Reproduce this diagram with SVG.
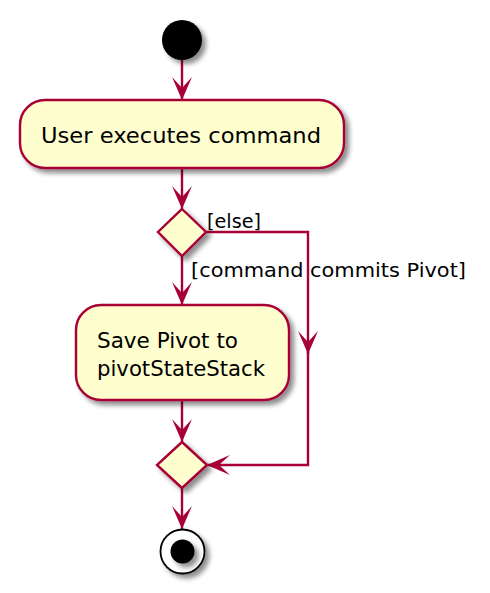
<svg xmlns="http://www.w3.org/2000/svg" width="490" height="593" viewBox="0 0 490 593">
  <style>
    .node { fill: #FEFECE; stroke: #A80036; stroke-width: 2.4; }
    .conn { fill: none; stroke: #A80036; stroke-width: 2.4; }
    .txt { font-family: "DejaVu Sans", "Liberation Sans", sans-serif; font-size: 22px; fill: #000; }
    .lbl { font-family: "DejaVu Sans", "Liberation Sans", sans-serif; font-size: 20px; fill: #000; }
  </style>
  <defs>
    <filter id="shadow" x="-30%" y="-30%" width="170%" height="170%">
      <feGaussianBlur in="SourceAlpha" stdDeviation="2.5" result="b"/>
      <feOffset in="b" dx="4" dy="4" result="o"/>
      <feComponentTransfer in="o" result="s">
        <feFuncA type="linear" slope="0.45"/>
      </feComponentTransfer>
      <feMerge>
        <feMergeNode in="s"/>
        <feMergeNode in="SourceGraphic"/>
      </feMerge>
    </filter>
    <marker id="arrow" markerUnits="userSpaceOnUse" viewBox="-24 -11 25 22" refX="0" refY="0" markerWidth="25" markerHeight="22" orient="auto">
      <path d="M0,0 L-23,-10 L-12,0 L-23,10 Z" fill="#A80036"/>
    </marker>
  </defs>
  <rect width="490" height="593" fill="#FFFFFF"/>

  <g id="connectors">
    <path class="conn" d="M182,60 V100" marker-end="url(#arrow)"/>
    <path class="conn" d="M182,168 V209" marker-end="url(#arrow)"/>
    <path class="conn" d="M182,256 V305" marker-end="url(#arrow)"/>
    <path class="conn" d="M182,400 V442" marker-end="url(#arrow)"/>
    <path class="conn" d="M182,488 V529" marker-end="url(#arrow)"/>
    <path class="conn" d="M206,232 H308 V354" marker-end="url(#arrow)"/>
    <path class="conn" d="M308,350 V465 H207" marker-end="url(#arrow)"/>
    <text class="lbl" x="207" y="228" textLength="54" lengthAdjust="spacingAndGlyphs">[else]</text>
    <text class="lbl" x="191" y="277" textLength="275" lengthAdjust="spacingAndGlyphs">[command commits Pivot]</text>
  </g>

  <g id="start">
    <circle cx="182" cy="40" r="20" fill="#000000" filter="url(#shadow)"/>
  </g>

  <g id="action1">
    <rect class="node" x="20" y="100" width="324" height="68" rx="25" ry="25" filter="url(#shadow)"/>
    <text class="txt" x="41" y="143" textLength="280" lengthAdjust="spacingAndGlyphs">User executes command</text>
  </g>

  <g id="decision1">
    <polygon class="node" points="182,209 206,232 182,256 158,232" filter="url(#shadow)"/>
  </g>

  <g id="action2">
    <rect class="node" x="76" y="305" width="213" height="95" rx="25" ry="25" filter="url(#shadow)"/>
    <text class="txt" x="97" y="348" textLength="141" lengthAdjust="spacingAndGlyphs">Save Pivot to</text>
    <text class="txt" x="97" y="376" textLength="168" lengthAdjust="spacingAndGlyphs">pivotStateStack</text>
  </g>

  <g id="merge">
    <polygon class="node" points="182,442 207,465 182,488 157,465" filter="url(#shadow)"/>
  </g>

  <g id="end">
    <circle cx="182.5" cy="551.5" r="22" fill="#FFFFFF" stroke="#000000" stroke-width="1.8" filter="url(#shadow)"/>
    <circle cx="182.5" cy="551.5" r="12" fill="#000000" filter="url(#shadow)"/>
  </g>
</svg>
